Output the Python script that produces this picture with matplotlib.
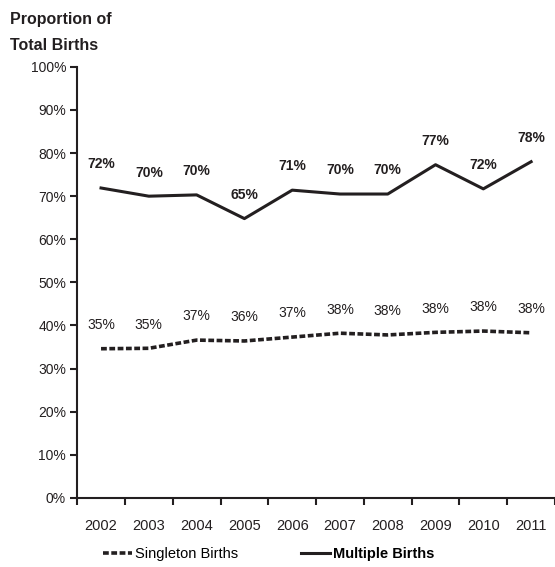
import numpy as np
import matplotlib
matplotlib.use("Agg")
import matplotlib.pyplot as plt
from matplotlib.lines import Line2D

plt.rcParams["font.family"] = ["Liberation Sans", "DejaVu Sans"]

years = ["2002", "2003", "2004", "2005", "2006", "2007", "2008", "2009", "2010", "2011"]
singleton = [34.6, 34.7, 36.6, 36.4, 37.3, 38.2, 37.8, 38.4, 38.7, 38.3]
singleton_labels = ["35%", "35%", "37%", "36%", "37%", "38%", "38%", "38%", "38%", "38%"]
multiple = [71.9, 70.0, 70.3, 64.8, 71.4, 70.5, 70.5, 77.3, 71.7, 78.0]
multiple_labels = ["72%", "70%", "70%", "65%", "71%", "70%", "70%", "77%", "72%", "78%"]

ink = "#231f20"
dash = (0, (1.6, 0.7))

fig = plt.figure(figsize=(5.55, 5.67), dpi=100)
ax = fig.add_axes([0.139, 0.122, 0.861, 0.76])

x = np.arange(len(years))
ax.plot(x, singleton, color=ink, lw=2.6, linestyle=dash)
ax.plot(x, multiple, color=ink, lw=2.2)

for xi, v, lab in zip(x, singleton, singleton_labels):
    ax.annotate(lab, (xi, v), xytext=(0, 12), textcoords="offset points",
                ha="center", va="bottom", fontsize=10, color=ink)
for xi, v, lab in zip(x, multiple, multiple_labels):
    ax.annotate(lab, (xi, v), xytext=(0, 12), textcoords="offset points",
                ha="center", va="bottom", fontsize=10, fontweight="bold",
                color=ink)

ax.set_xlim(-0.5, len(years) - 0.5)
ax.set_ylim(0, 100)
ax.set_yticks(np.arange(0, 101, 10))
ax.set_yticklabels([f"{v}%" for v in range(0, 101, 10)], fontsize=10, color=ink)
ax.set_xticks(np.arange(-0.5, len(years), 1.0))
ax.set_xticklabels([])
ax.set_xticks(x, minor=True)
ax.set_xticklabels(years, minor=True, fontsize=10.5, color=ink)
ax.tick_params(axis="x", which="minor", length=0, pad=15)
ax.tick_params(axis="both", which="major", length=5, width=1.5, color=ink)
ax.tick_params(axis="y", pad=3)

for s in ["top", "right"]:
    ax.spines[s].set_visible(False)
for s in ["left", "bottom"]:
    ax.spines[s].set_linewidth(1.5)
    ax.spines[s].set_color(ink)

fig.text(0.018, 0.966, "Proportion of", fontsize=11.5, fontweight="bold",
         color=ink, va="center")
fig.text(0.018, 0.919, "Total Births", fontsize=11.5, fontweight="bold",
         color=ink, va="center")

handles = [
    Line2D([], [], color=ink, lw=2.6, linestyle=dash),
    Line2D([], [], color=ink, lw=2.2),
]
leg = fig.legend(handles, ["Singleton Births", "Multiple Births"],
                 loc="center", bbox_to_anchor=(0.484, 0.023), ncol=2,
                 frameon=False, fontsize=10.5, handlelength=2.0,
                 handletextpad=0.2, columnspacing=4.3)
leg.get_texts()[1].set_fontweight("bold")

fig.savefig("out.png", dpi=100)
